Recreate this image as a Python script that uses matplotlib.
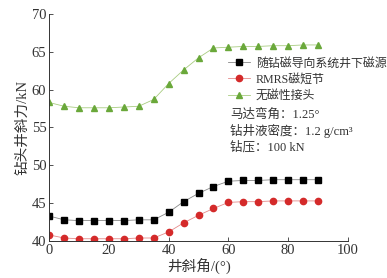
import matplotlib
matplotlib.use('Agg')
import matplotlib.pyplot as plt

plt.rcParams['font.family'] = ['Liberation Serif', 'Noto Sans CJK SC']

angles = [0, 5, 10, 15, 20, 25, 30, 35, 40, 45, 50, 55, 60, 65, 70, 75, 80, 85, 90]
force_source = [43.3, 42.8, 42.7, 42.7, 42.7, 42.7, 42.8, 42.8, 43.8, 45.2, 46.3, 47.2,
                47.9, 48.0, 48.0, 48.1, 48.1, 48.1, 48.1]
force_rmrs = [40.8, 40.4, 40.3, 40.3, 40.3, 40.3, 40.4, 40.4, 41.2, 42.4, 43.4, 44.3,
              45.1, 45.2, 45.2, 45.3, 45.3, 45.3, 45.3]
force_nonmag = [58.3, 57.8, 57.6, 57.6, 57.6, 57.7, 57.8, 58.7, 60.8, 62.6, 64.2, 65.5,
                65.6, 65.7, 65.7, 65.8, 65.8, 65.9, 65.9]
series_labels = ['随钻磁导向系统井下磁源', 'RMRS磁短节', '无磁性接头']
notes = ['马达弯角：1.25°', '钻井液密度：1.2 g/cm³', '钻压：100 kN']

fig = plt.figure(figsize=(3.87, 2.78), dpi=100)
ax = fig.add_axes([0.127, 0.133, 0.772, 0.817])

ax.plot(angles, force_source, color='#888888', lw=0.6, marker='s', ms=4.2,
        mfc='black', mec='black', label=series_labels[0])
ax.plot(angles, force_rmrs, color='#e58a8a', lw=0.6, marker='o', ms=4.5,
        mfc='#d42a2a', mec='#d42a2a', label=series_labels[1])
ax.plot(angles, force_nonmag, color='#a8cc80', lw=0.6, marker='^', ms=4.5,
        mfc='#6aa83a', mec='#6aa83a', label=series_labels[2])

ax.set_xlim(0, 100)
ax.set_ylim(40, 70)
ax.set_xticks([0, 20, 40, 60, 80, 100])
ax.set_yticks([40, 45, 50, 55, 60, 65, 70])
ax.tick_params(direction='in', length=3, width=0.6, labelsize=10.5, colors='#333333', pad=2)
for s in ['top', 'right']:
    ax.spines[s].set_visible(False)
for s in ['left', 'bottom']:
    ax.spines[s].set_linewidth(0.7)
    ax.spines[s].set_color('#333333')

ax.set_xlabel('井斜角/(°)', fontsize=10.5, color='#333333', labelpad=1)
ax.set_ylabel('钻头井斜力/kN', fontsize=10.5, color='#333333', labelpad=2)

leg = fig.legend(loc='upper left', bbox_to_anchor=(0.575, 0.815), frameon=False,
                 fontsize=8.6, handlelength=1.8, handletextpad=0.5, labelspacing=0.35,
                 borderpad=0)
for t in leg.get_texts():
    t.set_color('#333333')

for i, note in enumerate(notes):
    fig.text(0.595, 0.587 - i * 0.058, note, fontsize=9, color='#333333', va='center')

fig.savefig('out.png', dpi=100)
